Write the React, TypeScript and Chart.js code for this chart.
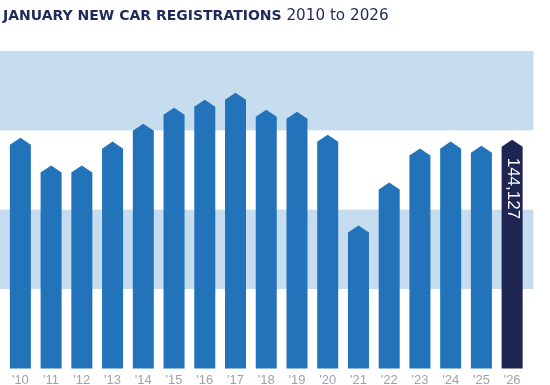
import React, { useEffect, useRef } from "react";
import { Chart, registerables } from "chart.js";

Chart.register(...registerables);

const years = ["'10", "'11", "'12", "'13", "'14", "'15", "'16", "'17", "'18", "'19", "'20", "'21", "'22", "'23", "'24", "'25", "'26"];
const registrations = [145400, 127800, 127800, 142900, 154200, 164300, 169300, 173700, 163000, 161700, 147300, 90000, 117100, 138500, 142900, 140300, 144127];
const bandRanges = [[50000, 100000], [150000, 200000]];
const highlightIndex = 16;

const BLUE = "#2373ba";
const NAVY = "#1f2553";
const BAND = "#c6dcef";
const TITLE = "#1f2a5c";

const shapesPlugin = {
  id: "shapes",
  beforeDatasetsDraw(chart: any) {
    const { ctx, chartArea, scales } = chart;
    ctx.save();
    ctx.fillStyle = BAND;
    for (const [lo, hi] of bandRanges) {
      const yTop = scales.y.getPixelForValue(hi);
      const yBot = scales.y.getPixelForValue(lo);
      ctx.fillRect(chartArea.left - 5, yTop, chartArea.right - chartArea.left + 11, yBot - yTop);
    }
    ctx.restore();
  },
  beforeDatasetDraw(chart: any, args: any) {
    const { ctx } = chart;
    const meta = args.meta;
    ctx.save();
    meta.data.forEach((el: any, i: number) => {
      const { x, y, base, width } = el.getProps(["x", "y", "base", "width"], true);
      const half = width / 2;
      const rise = width / 3;
      ctx.fillStyle = el.options.backgroundColor;
      ctx.beginPath();
      ctx.moveTo(x - half, base);
      ctx.lineTo(x - half, y + rise);
      ctx.lineTo(x, y);
      ctx.lineTo(x + half, y + rise);
      ctx.lineTo(x + half, base);
      ctx.closePath();
      ctx.fill();
      if (i === highlightIndex) {
        ctx.save();
        ctx.translate(x + 0.5, y + 18);
        ctx.rotate(Math.PI / 2);
        ctx.fillStyle = "#ffffff";
        ctx.font = "500 17px 'Liberation Sans', Arial, sans-serif";
        ctx.textAlign = "left";
        ctx.textBaseline = "middle";
        ctx.fillText(registrations[i].toLocaleString("en-US"), 0, 0);
        ctx.restore();
      }
    });
    ctx.restore();
    return false;
  },
};

export default function App() {
  const ref = useRef<HTMLCanvasElement>(null);
  useEffect(() => {
    if (!ref.current) return;
    const chart = new Chart(ref.current, {
      type: "bar",
      data: {
        labels: years,
        datasets: [
          {
            data: registrations,
            backgroundColor: registrations.map((_, i) => (i === highlightIndex ? NAVY : BLUE)),
            barPercentage: 0.684,
            categoryPercentage: 1,
          },
        ],
      },
      options: {
        responsive: false,
        animation: false,
        layout: { padding: { top: 51, left: 5, right: 22.5, bottom: 8 } },
        plugins: { legend: { display: false }, tooltip: { enabled: false } },
        scales: {
          y: { display: false, min: 0, max: 200000 },
          x: {
            grid: { display: false, drawTicks: false },
            border: { display: false },
            ticks: {
              padding: 4,
              color: "#9ea2a9",
              font: { family: "'Liberation Sans', Arial, sans-serif", size: 13 },
            },
          },
        },
      },
      plugins: [shapesPlugin],
    });
    return () => chart.destroy();
  }, []);
  return (
    <div style={{ position: "fixed", left: 0, top: 0, width: 550, height: 385, overflow: "hidden", background: "#fff" }}>
      <canvas ref={ref} width={550} height={400} style={{ position: "absolute", left: 0, top: 0, width: 550, height: 400 }} />
      <div
        style={{
          position: "absolute",
          left: 3,
          top: 7,
          whiteSpace: "nowrap",
          color: TITLE,
          fontFamily: "'DejaVu Sans', sans-serif",
          lineHeight: "16px",
        }}
      >
        <span style={{ fontWeight: 700, fontSize: 14 }}>JANUARY NEW CAR REGISTRATIONS</span>
        <span style={{ fontWeight: 400, fontSize: 15.2 }}> 2010 to 2026</span>
      </div>
    </div>
  );
}
